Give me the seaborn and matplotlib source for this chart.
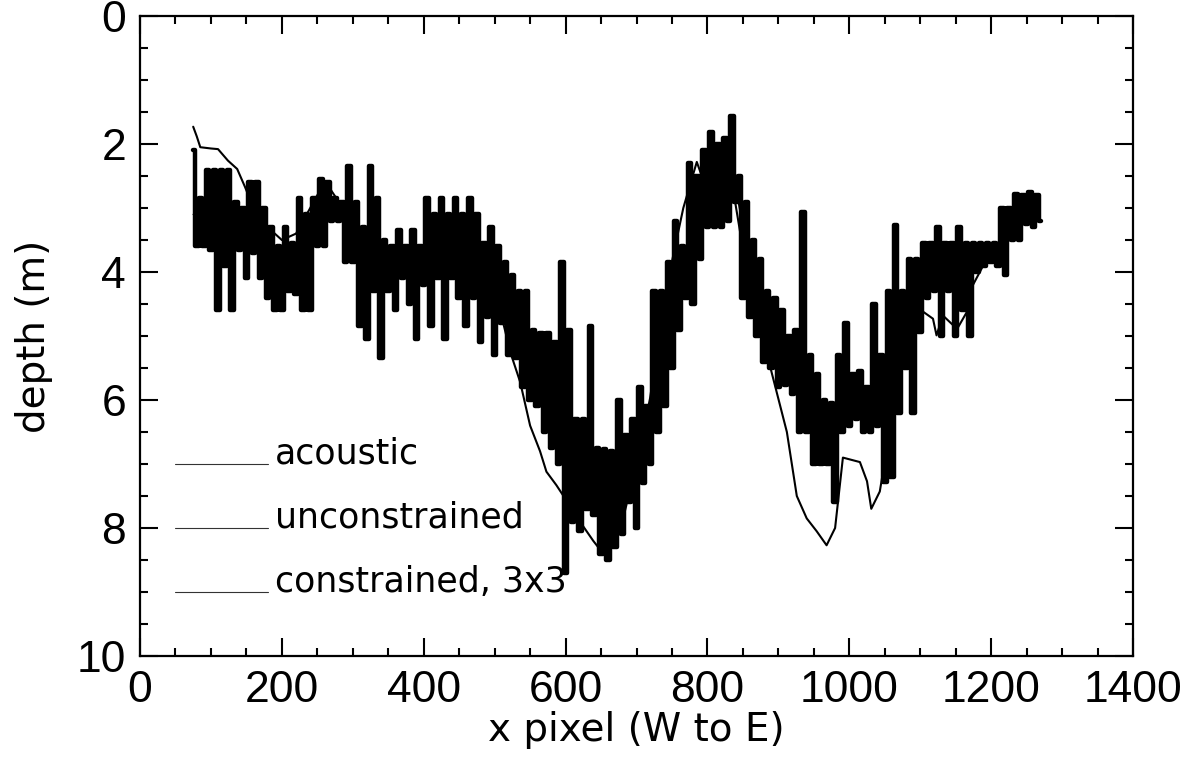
import numpy as np
import pandas as pd
import matplotlib
matplotlib.use("Agg")
import matplotlib.pyplot as plt
import seaborn as sns
from matplotlib.ticker import MultipleLocator

sns.set_style("ticks")
plt.rcParams['font.family'] = ['DejaVu Sans']
plt.rcParams['text.color'] = 'black'
plt.rcParams['axes.labelcolor'] = 'black'

# --- data ---

# acoustic (smooth) depth profile
acoustic_x = [75, 80, 85, 100, 110, 124, 137, 148, 160, 180, 200, 220, 240, 255, 265,
              280, 300, 330, 360, 400, 430, 460, 490, 510, 522, 536, 550, 564, 573, 587,
              606, 624, 639, 653, 667, 680, 700, 719, 743, 766, 785, 800, 818, 830, 846,
              860, 888, 912, 926, 940, 954, 968, 980, 991, 1015, 1025, 1031, 1043, 1053,
              1067, 1081, 1095, 1104, 1118, 1123, 1132, 1152, 1166, 1174, 1194, 1222,
              1241, 1264]
acoustic_d = [1.73, 1.88, 2.05, 2.07, 2.08, 2.26, 2.39, 2.67, 3.0, 3.3, 3.5, 3.4, 3.0, 2.7, 2.65,
              2.9, 3.4, 3.8, 3.9, 3.8, 3.6, 3.7, 4.2, 4.7, 5.25, 5.72, 6.4, 6.8, 7.12, 7.33,
              7.65, 7.96, 8.2, 8.4, 8.3, 7.9, 7.0, 5.98, 4.2, 3.0, 2.28, 2.75, 2.8, 2.3, 3.37,
              4.4, 5.46, 6.5, 7.5, 7.85, 8.05, 8.27, 8.0, 6.9, 6.97, 7.27, 7.7, 7.43, 6.76,
              5.87, 5.15, 4.84, 4.62, 4.73, 4.99, 4.68, 4.89, 4.62, 4.21, 3.79, 3.48,
              3.12, 2.86]

# unconstrained: noisy band, upper / lower swing every 10 pixels
unc_x = list(range(75, 1270, 10))
unc_top = [2.1, 2.85, 2.4, 2.4, 2.4, 2.4, 2.9, 3.0, 2.6, 2.6,
           3.0, 3.3, 3.6, 3.3, 3.55, 2.85, 3.1, 2.85, 2.55, 2.6,
           2.85, 2.9, 2.35, 2.9, 3.3, 2.35, 2.85, 3.5, 3.6, 3.35,
           3.6, 3.35, 3.6, 2.85, 3.1, 2.85, 3.1, 2.85, 3.1, 2.85,
           3.1, 3.55, 3.3, 3.6, 3.85, 4.05, 4.3, 4.3, 4.9, 4.95,
           4.95, 5.1, 3.85, 4.9, 6.3, 6.3, 4.85, 6.75, 6.76, 6.8,
           6.0, 6.55, 6.3, 5.8, 6.1, 4.3, 4.3, 3.85, 3.2, 3.6,
           2.3, 2.5, 2.1, 1.82, 2.0, 1.9, 1.56, 2.5, 2.9, 3.5,
           3.8, 4.3, 4.4, 4.6, 5.0, 4.9, 3.07, 5.3, 5.6, 6.0,
           6.05, 5.3, 4.8, 5.6, 5.55, 5.8, 4.5, 5.3, 4.3, 3.27,
           4.3, 3.8, 3.8, 3.55, 3.55, 3.3, 3.55, 3.55, 3.3, 3.55,
           3.55, 3.55, 3.55, 3.55, 3.0, 3.0, 2.78, 2.8, 2.75, 2.8]
unc_bot = [3.6, 3.6, 3.65, 4.6, 3.9, 4.6, 3.65, 4.1, 3.7, 4.1,
           4.4, 4.6, 4.6, 4.3, 4.35, 4.6, 4.6, 3.6, 3.6, 3.2,
           3.2, 3.85, 3.85, 4.85, 5.05, 4.3, 5.35, 4.3, 4.6, 4.1,
           4.5, 5.05, 4.2, 4.85, 4.1, 5.05, 4.1, 4.4, 4.85, 4.4,
           5.1, 4.7, 5.3, 4.8, 5.3, 5.35, 5.8, 6.0, 6.1, 6.5,
           6.75, 7.0, 8.7, 7.9, 8.05, 7.7, 7.8, 8.4, 8.5, 8.3,
           8.1, 7.6, 8.0, 7.3, 7.0, 6.5, 6.1, 5.5, 4.9, 4.4,
           4.5, 3.8, 3.3, 3.3, 3.3, 3.2, 2.9, 4.4, 4.7, 5.0,
           5.4, 5.5, 5.8, 5.77, 5.9, 6.5, 6.5, 7.0, 7.0, 7.0,
           7.6, 6.5, 6.4, 6.3, 6.5, 6.5, 6.4, 7.28, 7.2, 6.2,
           5.5, 6.2, 4.94, 4.4, 4.3, 5.0, 4.3, 5.0, 4.6, 5.0,
           4.0, 3.9, 3.85, 3.9, 4.05, 3.5, 3.5, 3.25, 3.3, 3.2]

# constrained 3x3: follows the middle of the band
con_x = list(range(75, 1260, 20)) + [1265]
con_d = [3.1, 3.3, 3.4, 3.3, 3.4, 3.7, 3.9, 3.9, 3.7, 2.9,
         3.0, 3.4, 3.9, 4.0, 4.0, 4.0, 3.9, 3.7, 3.6, 3.7,
         3.9, 4.3, 4.6, 5.0, 5.5, 6.1, 6.8, 7.3, 7.6, 7.9,
         7.3, 7.0, 6.3, 5.4, 4.4, 3.5, 2.8, 2.6, 2.4, 3.6,
         4.5, 5.1, 5.6, 6.0, 6.4, 6.5, 5.9, 5.9, 6.0, 5.8,
         5.0, 4.5, 4.2, 4.1, 4.1, 3.9, 3.7, 3.6, 3.2, 3.0, 2.95]

legend_labels = ['acoustic', 'unconstrained', 'constrained, 3x3']

# interleave the upper and lower swings into one step trace
unc = pd.DataFrame({
    'x': np.column_stack([unc_x, np.array(unc_x) + 5]).ravel(),
    'depth': np.column_stack([unc_top, unc_bot]).ravel(),
})
aco = pd.DataFrame({'x': acoustic_x, 'depth': acoustic_d})
con = pd.DataFrame({'x': con_x, 'depth': con_d})

# --- figure ---
W, H = 1187, 761
fig = plt.figure(figsize=(W / 100, H / 100), dpi=100)
ax = fig.add_axes([140 / W, 1 - 656 / H, 993 / W, (656 - 16) / H])

sns.lineplot(data=con, x='x', y='depth', estimator=None, sort=False,
             color='black', linewidth=1.0, ax=ax)
sns.lineplot(data=unc, x='x', y='depth', estimator=None, sort=False,
             drawstyle='steps-mid', color='black', linewidth=3.2, ax=ax)
sns.lineplot(data=aco, x='x', y='depth', estimator=None, sort=False,
             color='black', linewidth=1.5, ax=ax)

# in-plot legend: short line with the label sitting on it
for row, lab in zip([7, 8, 9], legend_labels):
    ax.plot([50, 180], [row, row], color='#333333', lw=0.8)
    ax.text(190, row, lab, fontsize=25, va='baseline', ha='left', color='black')

ax.set_xlim(0, 1400)
ax.set_ylim(10, 0)
ax.xaxis.set_major_locator(MultipleLocator(200))
ax.xaxis.set_minor_locator(MultipleLocator(50))
ax.yaxis.set_major_locator(MultipleLocator(2))
ax.yaxis.set_minor_locator(MultipleLocator(0.5))

ax.tick_params(which='both', direction='in', top=True, right=True,
               width=1.5, color='black', labelcolor='black')
ax.tick_params(which='major', length=13, pad=10, labelsize=32,
               labelfontfamily=['Liberation Sans Narrow', 'Liberation Sans'])
ax.tick_params(which='minor', length=6)
for sp in ax.spines.values():
    sp.set_linewidth(1.6)
    sp.set_color('black')

ax.set_xlabel('x pixel (W to E)', fontsize=28, labelpad=0)
ax.set_ylabel('depth (m)', fontsize=28)
ax.yaxis.set_label_coords(-0.088, 0.5)

fig.savefig('out.png', dpi=100, facecolor='white')
